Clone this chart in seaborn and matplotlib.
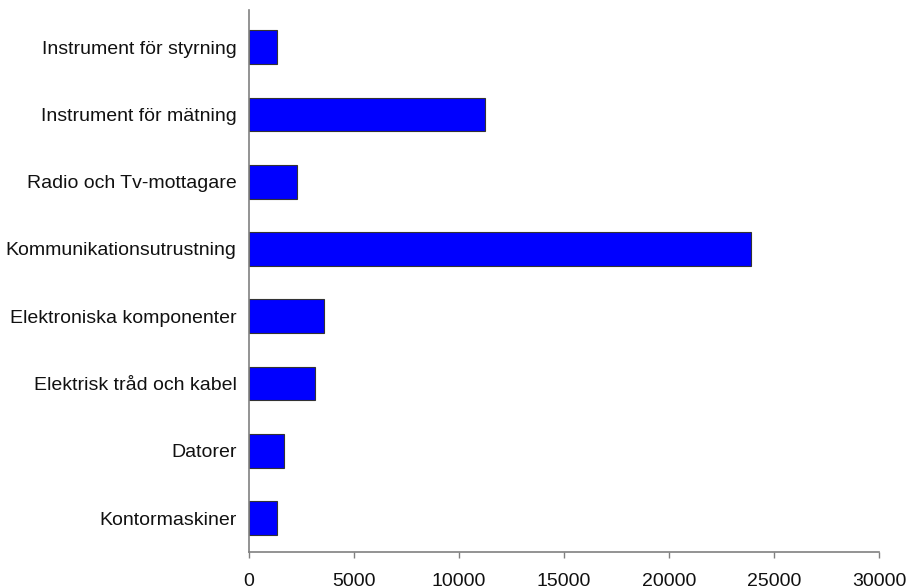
import matplotlib
matplotlib.use("Agg")
import matplotlib.pyplot as plt
import seaborn as sns
import pandas as pd

# --- Données ---
categories = [
    "Instrument för styrning",
    "Instrument för mätning",
    "Radio och Tv-mottagare",
    "Kommunikationsutrustning",
    "Elektroniska komponenter",
    "Elektrisk tråd och kabel",
    "Datorer",
    "Kontormaskiner",
]
values = [1350, 11250, 2300, 23900, 3550, 3150, 1650, 1350]
x_ticks = [0, 5000, 10000, 15000, 20000, 25000, 30000]

# --- Style ---
sns.set_theme(style="white")
plt.rcParams["font.family"] = ["Liberation Sans", "DejaVu Sans"]

df = pd.DataFrame({"category": categories, "value": values})

fig = plt.figure(figsize=(9.09, 5.88), dpi=100)
ax = fig.add_axes([0.274, 0.0617, 0.693, 0.921])

sns.barplot(
    data=df, x="value", y="category", order=categories,
    color="#0000FF", saturation=1, width=0.5,
    edgecolor="#333333", linewidth=0.8, ax=ax,
)

ax.set_xlim(0, 30000)
ax.set_ylim(len(categories) - 0.5, -0.55)
ax.set_xticks(x_ticks)
ax.set_xticklabels([str(t) for t in x_ticks], fontsize=14)
ax.tick_params(axis="y", labelsize=14, length=0, pad=9, labelcolor="#111111")
ax.tick_params(axis="x", bottom=True, length=4, width=1, color="#808080",
               direction="out", pad=11, labelcolor="#111111")
ax.set_xlabel("")
ax.set_ylabel("")

for side in ["top", "right"]:
    ax.spines[side].set_visible(False)
for side in ["left", "bottom"]:
    ax.spines[side].set_color("#808080")
    ax.spines[side].set_linewidth(1.2)

fig.savefig("out.png", dpi=100)
